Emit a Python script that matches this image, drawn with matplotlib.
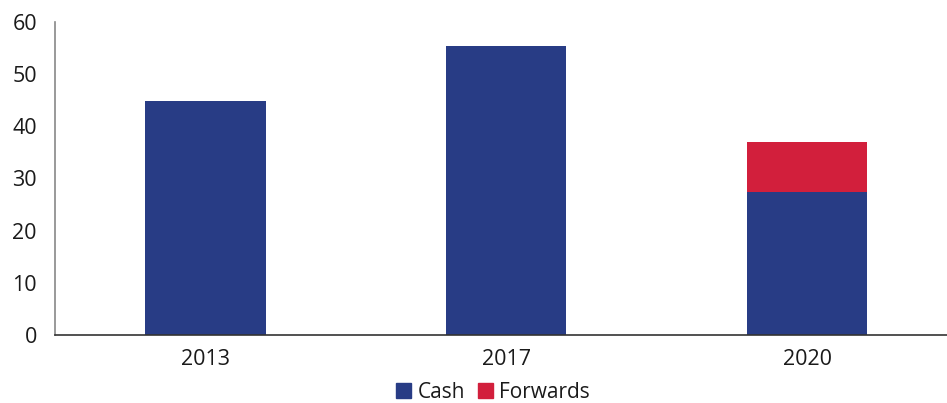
import matplotlib.pyplot as plt
from matplotlib.patches import Patch

years = ["2013", "2017", "2020"]
cash = [44.8, 55.4, 27.5]
forwards = [0, 0, 9.5]

navy = "#283C85"
red = "#D21F3C"

plt.rcParams['font.family'] = ['Open Sans', 'DejaVu Sans']

fig = plt.figure(figsize=(9.47, 4.03), dpi=100)
ax = fig.add_axes([55 / 947, 68 / 403, 892 / 947, 313 / 403])

x = range(len(years))
ax.bar(x, cash, width=0.4, color=navy)
ax.bar(x, forwards, width=0.4, bottom=cash, color=red)

ax.set_xlim(-0.5, 2.465)
ax.set_ylim(0, 60)
ax.set_yticks(range(0, 61, 10))
ax.set_xticks(list(x))
ax.set_xticklabels(years)
ax.tick_params(length=0, labelsize=15.5, colors="#1a1a1a")
ax.tick_params(axis="y", pad=13)
ax.tick_params(axis="x", pad=10)

for s in ["top", "right"]:
    ax.spines[s].set_visible(False)
ax.spines["left"].set_color("#888888")
ax.spines["left"].set_linewidth(1.2)
ax.spines["bottom"].set_color("#333333")
ax.spines["bottom"].set_linewidth(1.2)

handles = [Patch(color=navy, label="Cash"), Patch(color=red, label="Forwards")]
fig.legend(handles=handles, loc="center", bbox_to_anchor=(493 / 947, 1 - 392 / 403),
           ncol=2, frameon=False, fontsize=15, handlelength=0.75, handleheight=0.75,
           handletextpad=0.3, columnspacing=0.6, labelcolor="#1a1a1a",
           borderpad=0.1)

fig.savefig("out.png", dpi=100)
